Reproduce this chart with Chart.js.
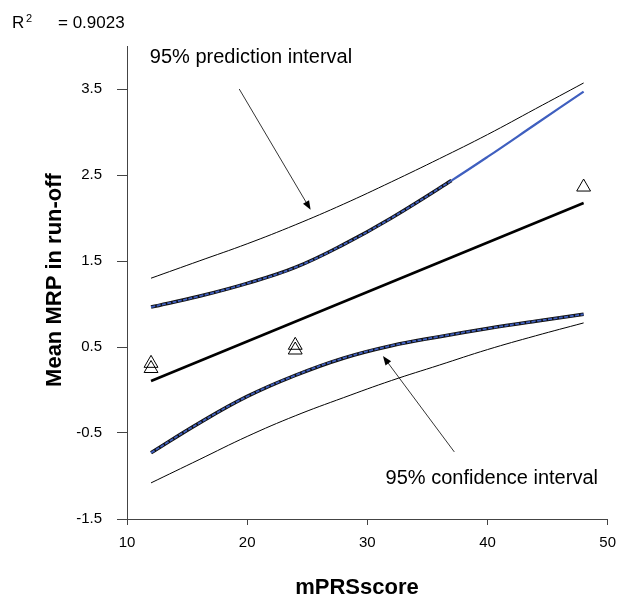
<!DOCTYPE html>
<html>
<head>
<meta charset="utf-8">
<script src="https://cdn.jsdelivr.net/npm/chart.js@4.4.0/dist/chart.umd.min.js"></script>
<style>
html, body { margin: 0; padding: 0; background: #fff; }
#wrap { width: 625px; height: 596px; }
</style>
</head>
<body>
<div id="wrap"><canvas id="mrpChart"></canvas></div>
<script>
// observed values (open triangles)
const obsX = [12, 12, 24, 24, 48];
const obsY = [0.31, 0.25, 0.52, 0.465, 2.36];

// fitted regression line
const fitX = [12, 48];
const fitY = [0.105, 2.175];

// 95% prediction interval
const bandX = [12, 16, 20, 24, 28, 32, 36, 40, 44, 48];
const predUpper = [1.30, 1.50, 1.70, 1.92, 2.16, 2.42, 2.69, 2.97, 3.27, 3.57];
const predLower = [-1.08, -0.81, -0.54, -0.30, -0.09, 0.11, 0.29, 0.47, 0.63, 0.78];

// 95% confidence interval
const confUpperX = [12, 16, 20, 24, 28, 32, 37, 40, 44, 48];
const confUpper = [0.965, 1.09, 1.24, 1.425, 1.69, 2.00, 2.435, 2.71, 3.09, 3.47];
const confLower = [-0.73, -0.385, -0.075, 0.17, 0.37, 0.515, 0.62, 0.715, 0.80, 0.88];
const confUpperPlainFrom = 37;

const xTicks = [10, 20, 30, 40, 50];
const yTicks = [-1.5, -0.5, 0.5, 1.5, 2.5, 3.5];

const notes = [
    { text: '95% prediction interval', x: 11.9, y: 3.805 },
    { text: '95% confidence interval', x: 31.52, y: -1.096 }
];
const arrows = [
    { from: [19.34, 3.5], to: [25.28, 2.095] },
    { from: [37.24, -0.72], to: [31.3, 0.394] }
];

const FONT = '"Liberation Sans", Arial, Helvetica, sans-serif';
const BLUE = '#3f5fbf';

function pts(xs, ys) {
    return xs.map((x, i) => ({ x: x, y: ys[i] }));
}

const extras = {
    id: 'extras',
    afterDraw(chart) {
        const ctx = chart.ctx;
        const xs = chart.scales.x, ys = chart.scales.y;
        ctx.save();
        ctx.fillStyle = '#000';
        ctx.strokeStyle = '#000';

        // R squared
        ctx.textBaseline = 'alphabetic';
        ctx.textAlign = 'left';
        ctx.font = '17px ' + FONT;
        ctx.fillText('R', 12, 28);
        ctx.font = '11px ' + FONT;
        ctx.fillText('2', 26, 22);
        ctx.font = '17px ' + FONT;
        ctx.fillText('= 0.9023', 58, 28);

        // annotations
        ctx.font = '20px ' + FONT;
        notes.forEach(n => {
            ctx.fillText(n.text, xs.getPixelForValue(n.x), ys.getPixelForValue(n.y));
        });
        ctx.lineWidth = 0.8;
        arrows.forEach(a => {
            const x0 = xs.getPixelForValue(a.from[0]), y0 = ys.getPixelForValue(a.from[1]);
            const x1 = xs.getPixelForValue(a.to[0]), y1 = ys.getPixelForValue(a.to[1]);
            const ang = Math.atan2(y1 - y0, x1 - x0);
            ctx.beginPath();
            ctx.moveTo(x0, y0);
            ctx.lineTo(x1 - 6 * Math.cos(ang), y1 - 6 * Math.sin(ang));
            ctx.stroke();
            ctx.beginPath();
            ctx.moveTo(x1, y1);
            ctx.lineTo(x1 - 9 * Math.cos(ang) + 3.5 * Math.sin(ang), y1 - 9 * Math.sin(ang) - 3.5 * Math.cos(ang));
            ctx.lineTo(x1 - 9 * Math.cos(ang) - 3.5 * Math.sin(ang), y1 - 9 * Math.sin(ang) + 3.5 * Math.cos(ang));
            ctx.closePath();
            ctx.fill();
        });

        // axis titles
        ctx.font = 'bold 22px ' + FONT;
        ctx.textAlign = 'center';
        ctx.fillText('mPRSscore', 357, 594);
        ctx.translate(61, 280);
        ctx.rotate(-Math.PI / 2);
        ctx.fillText('Mean MRP in run-off', 0, 0);
        ctx.restore();
    }
};

const thinLine = { borderColor: '#000', borderWidth: 1, pointRadius: 0, fill: false, tension: 0.4 };

new Chart(document.getElementById('mrpChart'), {
    type: 'line',
    data: {
        datasets: [{
            label: 'Observed',
            data: pts(obsX, obsY),
            showLine: false,
            pointStyle: 'triangle',
            pointRadius: 8,
            pointBorderWidth: 1,
            pointBorderColor: '#000',
            pointBackgroundColor: 'rgba(0,0,0,0)',
            order: 0
        }, {
            label: 'Conf upper (blue)',
            data: pts(confUpperX, confUpper),
            borderColor: BLUE,
            borderWidth: 2,
            pointRadius: 0,
            tension: 0.4,
            segment: {
                borderDash: c => c.p0.parsed.x >= confUpperPlainFrom ? [] : [4, 1.5],
                borderWidth: c => c.p0.parsed.x >= confUpperPlainFrom ? 2.2 : 1.8
            },
            order: 1
        }, {
            label: 'Conf lower (blue)',
            data: pts(bandX, confLower),
            borderColor: BLUE,
            borderWidth: 1.8,
            borderDash: [4, 1.5],
            pointRadius: 0,
            tension: 0.4,
            order: 1
        }, {
            label: 'Conf upper',
            data: pts(confUpperX, confUpper),
            borderColor: '#111',
            borderWidth: 3.6,
            pointRadius: 0,
            tension: 0.4,
            segment: {
                borderColor: c => c.p0.parsed.x >= confUpperPlainFrom ? 'rgba(0,0,0,0)' : '#111'
            },
            order: 2
        }, {
            label: 'Conf lower',
            data: pts(bandX, confLower),
            borderColor: '#111',
            borderWidth: 3.6,
            pointRadius: 0,
            tension: 0.4,
            order: 2
        }, {
            label: 'Fit',
            data: pts(fitX, fitY),
            borderColor: '#000',
            borderWidth: 2.6,
            pointRadius: 0,
            order: 3
        }, Object.assign({ label: 'Pred upper', data: pts(bandX, predUpper), order: 4 }, thinLine),
           Object.assign({ label: 'Pred lower', data: pts(bandX, predLower), order: 4 }, thinLine)]
    },
    options: {
        responsive: true,
        maintainAspectRatio: false,
        animation: false,
        layout: { padding: { top: 46, right: 11, left: 0, bottom: 0 } },
        plugins: {
            legend: { display: false },
            tooltip: { enabled: false }
        },
        scales: {
            x: {
                type: 'linear',
                min: 10,
                max: 50,
                afterFit: s => { s.height = 77; },
                afterBuildTicks: s => { s.ticks = xTicks.map(v => ({ value: v })); },
                border: { display: true, color: '#444', width: 1 },
                grid: { display: true, drawOnChartArea: false, drawTicks: true, tickLength: 6, color: '#444' },
                ticks: { color: '#000', padding: 9, font: { family: FONT, size: 15 }, maxRotation: 0 }
            },
            y: {
                type: 'linear',
                min: -1.5,
                max: 4.0,
                afterFit: s => { s.width = 127; },
                afterBuildTicks: s => { s.ticks = yTicks.map(v => ({ value: v })); },
                border: { display: true, color: '#444', width: 1 },
                grid: { display: true, drawOnChartArea: false, drawTicks: true, tickLength: 10, color: '#444' },
                ticks: {
                    color: '#000',
                    padding: 15,
                    font: { family: FONT, size: 15 },
                    callback: v => v.toFixed(1)
                }
            }
        }
    },
    plugins: [extras]
});
</script>
</body>
</html>
